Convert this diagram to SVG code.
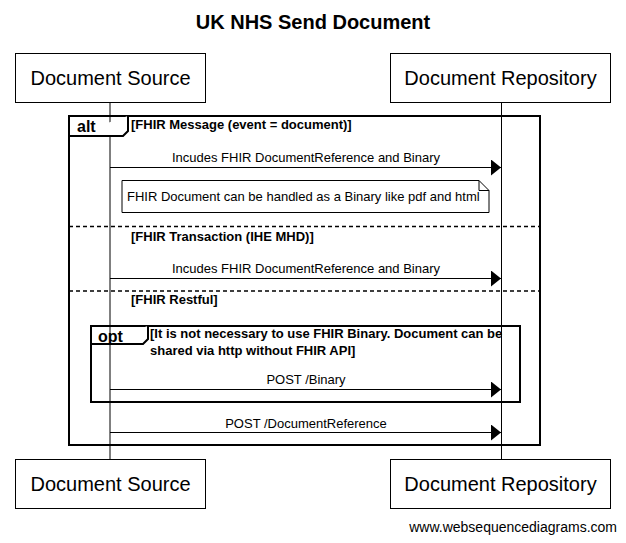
<svg xmlns="http://www.w3.org/2000/svg" width="626" height="543" viewBox="0 0 626 543">
<defs>
<style>
.box{fill:#fff;stroke:#000;stroke-width:1}
.ptxt{font-family:"Liberation Sans",Arial,sans-serif;font-size:20px;fill:#000;text-anchor:middle}
.msg{font-family:"Liberation Sans",Arial,sans-serif;font-size:13px;fill:#000;text-anchor:middle}
.cond{font-family:"Liberation Sans",Arial,sans-serif;font-size:13px;font-weight:bold;fill:#000}
.tab{font-family:"Liberation Sans",Arial,sans-serif;font-size:16px;font-weight:bold;fill:#000}
.frame{fill:none;stroke:#000;stroke-width:2}
.life{stroke:#000;stroke-width:1}
.arrow{stroke:#000;stroke-width:1;fill:none}
.sep{stroke:#000;stroke-width:1.5;stroke-dasharray:4,3}
</style>
<marker id="ah" markerWidth="10" markerHeight="16" refX="10" refY="8" orient="auto" markerUnits="userSpaceOnUse">
<path d="M0,0 L10,8 L0,16 Z" fill="#000"/>
</marker>
</defs>
<rect width="626" height="543" fill="#fff"/>
<text x="313" y="29" font-family="Liberation Sans,Arial,sans-serif" font-size="20" font-weight="bold" text-anchor="middle">UK NHS Send Document</text>

<g id="lifelines">
<line class="life" x1="110" y1="102" x2="110" y2="460"/>
<line class="life" x1="501.5" y1="102" x2="501.5" y2="460"/>
</g>

<g id="source-top"><rect class="box" x="15.5" y="53.5" width="190" height="49"/><text class="ptxt" x="110.5" y="85">Document Source</text></g>
<g id="repo-top"><rect class="box" x="390.5" y="53.5" width="220" height="49"/><text class="ptxt" x="500.5" y="85">Document Repository</text></g>
<g id="source-bottom"><rect class="box" x="15.5" y="459.5" width="190" height="49"/><text class="ptxt" x="110.5" y="491">Document Source</text></g>
<g id="repo-bottom"><rect class="box" x="390.5" y="459.5" width="220" height="49"/><text class="ptxt" x="500.5" y="491">Document Repository</text></g>

<g id="alt">
<rect class="frame" x="69" y="116" width="471" height="329"/>
<path d="M69,136 L123,136 L128,131 L128,116" fill="#fff" stroke="#000" stroke-width="2"/>
<text class="tab" x="77" y="132">alt</text>
<text class="cond" x="131" y="129">[FHIR Message (event = document)]</text>
<line class="sep" x1="69" y1="226.5" x2="540" y2="226.5"/>
<text class="cond" x="131" y="241">[FHIR Transaction (IHE MHD)]</text>
<line class="sep" x1="69" y1="291" x2="540" y2="291"/>
<text class="cond" x="131" y="304">[FHIR Restful]</text>
</g>

<g id="opt">
<rect class="frame" x="91" y="326" width="429" height="76"/>
<path d="M91,344 L143,344 L148,339 L148,326" fill="#fff" stroke="#000" stroke-width="2"/>
<text class="tab" x="98" y="342">opt</text>
<text class="cond" x="150" y="338">[It is not necessary to use FHIR Binary. Document can be</text>
<text class="cond" x="150" y="355">shared via http without FHIR API]</text>
</g>

<g id="note">
<path d="M122,180.5 L479,180.5 L489,190.5 L489,212.5 L122,212.5 Z" fill="#fff" stroke="#000" stroke-width="1"/>
<path d="M479,180.5 L479,190.5 L489,190.5" fill="none" stroke="#000" stroke-width="1"/>
<text x="127" y="201" font-family="Liberation Sans,Arial,sans-serif" font-size="13">FHIR Document can be handled as a Binary like pdf and html</text>
</g>

<g id="connectors">
<line class="arrow" x1="110" y1="167.5" x2="501" y2="167.5" marker-end="url(#ah)"/>
<text class="msg" x="306" y="162">Incudes FHIR DocumentReference and Binary</text>
<line class="arrow" x1="110" y1="278.5" x2="501" y2="278.5" marker-end="url(#ah)"/>
<text class="msg" x="306" y="273">Incudes FHIR DocumentReference and Binary</text>
<line class="arrow" x1="110" y1="389.5" x2="501" y2="389.5" marker-end="url(#ah)"/>
<text class="msg" x="306" y="384">POST /Binary</text>
<line class="arrow" x1="110" y1="432.5" x2="501" y2="432.5" marker-end="url(#ah)"/>
<text class="msg" x="306" y="428">POST /DocumentReference</text>
</g>

<text x="617" y="532" font-family="Liberation Sans,Arial,sans-serif" font-size="14" text-anchor="end">www.websequencediagrams.com</text>
</svg>
